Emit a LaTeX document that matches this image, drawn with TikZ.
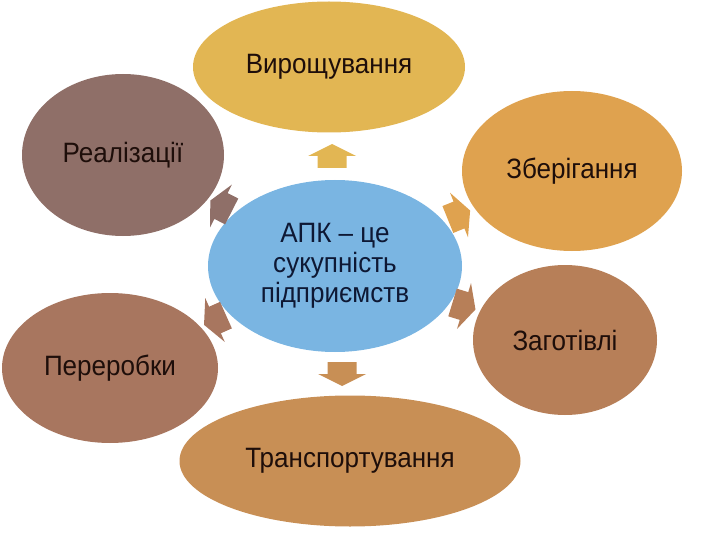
\documentclass[tikz,border=0pt]{standalone}
\usepackage{fontspec}
\setmainfont[FakeStretch=0.93]{Liberation Sans}
\usetikzlibrary{shapes.geometric}

\definecolor{viro}{RGB}{226,182,83}
\definecolor{zber}{RGB}{223,162,79}
\definecolor{zag}{RGB}{183,127,88}
\definecolor{trans}{RGB}{200,143,85}
\definecolor{perer}{RGB}{168,118,95}
\definecolor{real}{RGB}{143,111,104}
\definecolor{apk}{RGB}{122,181,226}
\definecolor{txt}{RGB}{30,14,10}
\definecolor{navy}{RGB}{14,24,52}

\tikzset{
  bubble/.style={ellipse, inner sep=0pt, text=txt, font=\fontsize{28}{30}\selectfont},
  blockarr/.pic={
    \path[pic actions] (-12,-14.5) -- (0,-14.5) -- (0,-24) -- (12,0)
      -- (0,24) -- (0,14.5) -- (-12,14.5) -- cycle;
  }
}

\begin{document}
\begin{tikzpicture}[x=1pt,y=-1pt]
    \useasboundingbox (0,0) rectangle (720,540);

    \node[bubble, fill=viro, minimum width=272, minimum height=131] (viro) at (329,67) {Вирощування};
    \node[bubble, fill=zber, minimum width=220, minimum height=160] (zber) at (572,171) {Зберігання};
    \node[bubble, fill=zag, minimum width=184, minimum height=150] (zag) at (565,340) {Заготівлі};
    \node[bubble, fill=trans, minimum width=341, minimum height=131] (trans) at (350,461) {Транспортування};
    \node[bubble, fill=perer, minimum width=216, minimum height=150] (perer) at (110,368) {Переробки};
    \node[bubble, fill=real, minimum width=202, minimum height=162] (real) at (123,155) {Реалізації};
    \node[bubble, fill=apk, minimum width=254, minimum height=172, text=navy, align=center] (apk) at (335,266)
        {АПК – це\\сукупність\\підприємств};

    % block arrows from the centre outwards
    \pic[fill=viro, rotate=90] at (332,156) {blockarr};
    \pic[fill=trans, rotate=-90] at (342,374) {blockarr};
    \pic[fill=zber, rotate=22] at (459,215) {blockarr};
    \pic[fill=zag, rotate=-17] at (464,306) {blockarr};
    \pic[fill=real, rotate=153] at (221,206) {blockarr};
    \pic[fill=perer, rotate=204] at (215,320) {blockarr};
\end{tikzpicture}
\end{document}
